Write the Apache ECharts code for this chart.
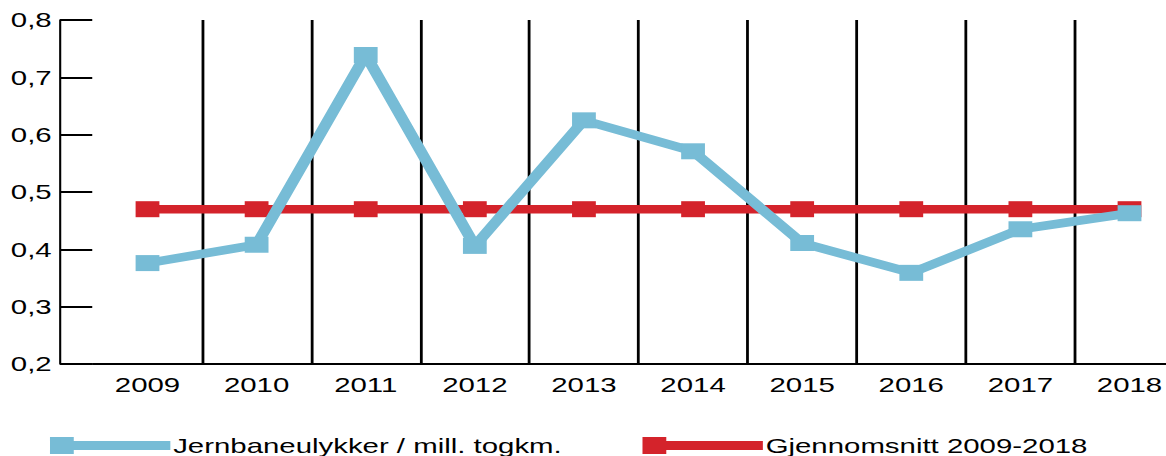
<!DOCTYPE html>
<html>
<head>
<meta charset="utf-8">
<script src="https://cdn.jsdelivr.net/npm/echarts@6/dist/echarts.min.js"></script>
<style>
html,body{margin:0;padding:0;background:#fff;overflow:hidden;width:1166px;height:456px;}
#chart{width:860px;height:456px;transform:scaleX(1.39976);transform-origin:0 0;}
</style>
</head>
<body>
<div id="chart"></div>
<script>
const years = ['2009','2010','2011','2012','2013','2014','2015','2016','2017','2018'];
const accidents = [0.376, 0.408, 0.739, 0.406, 0.625, 0.571, 0.411, 0.359, 0.435, 0.463];
const average = [0.470, 0.470, 0.470, 0.470, 0.470, 0.470, 0.470, 0.470, 0.470, 0.470];
const seriesNames = ['Jernbaneulykker / mill. togkm.', 'Gjennomsnitt 2009-2018'];

const BLUE = '#77bcd6';
const RED = '#d4232b';
const FONT = '"Liberation Sans", Arial, sans-serif';
const iconPath = 'path://M0,0H17V17H0Z M17,4H86V13H17Z';

const chart = echarts.init(document.getElementById('chart'), null, {renderer: 'svg'});
chart.setOption({
  animation: false,
  grid: {left: 66.4, top: 20, width: 779.5, bottom: 92, containLabel: false},
  legend: [
    {left: 30.7, top: 430, itemWidth: 86, itemHeight: 17, itemGap: 6,
     data: [{name: seriesNames[0], icon: iconPath, itemStyle: {color: BLUE}}],
     textStyle: {fontFamily: FONT, fontSize: 21, color: '#000', padding: [0,0,0,-3]}},
    {left: 454, top: 430, itemWidth: 86, itemHeight: 17,
     data: [{name: seriesNames[1], icon: iconPath, itemStyle: {color: RED}}],
     textStyle: {fontFamily: FONT, fontSize: 21, color: '#000', padding: [0,0,0,-3]}}
  ],
  xAxis: {
    type: 'category',
    data: years,
    boundaryGap: true,
    axisLine: {lineStyle: {color: '#000', width: 2}},
    axisTick: {show: false},
    axisLabel: {fontFamily: FONT, fontSize: 21, color: '#000', margin: 10},
    splitLine: {show: true, interval: function (i) { return i !== 0; }, lineStyle: {color: '#000', width: 2}}
  },
  yAxis: {
    type: 'value',
    min: 0.2, max: 0.8, interval: 0.1,
    offset: 23.5,
    axisLine: {show: true, lineStyle: {color: '#000', width: 1.5}},
    axisTick: {show: true, inside: true, length: 23, lineStyle: {color: '#000', width: 2}},
    axisLabel: {fontFamily: FONT, fontSize: 21, color: '#000', margin: 6,
      formatter: function (v) { return v.toFixed(1).replace('.', ','); }},
    splitLine: {show: false}
  },
  series: [
    {name: seriesNames[1], type: 'line', data: average, symbol: 'rect', symbolSize: [17, 16],
     lineStyle: {color: RED, width: 8.5}, itemStyle: {color: RED}, z: 2},
    {name: seriesNames[0], type: 'line', data: accidents, symbol: 'rect', symbolSize: [17, 16],
     lineStyle: {color: BLUE, width: 8.5}, itemStyle: {color: BLUE}, z: 3}
  ]
});
</script>
</body>
</html>
